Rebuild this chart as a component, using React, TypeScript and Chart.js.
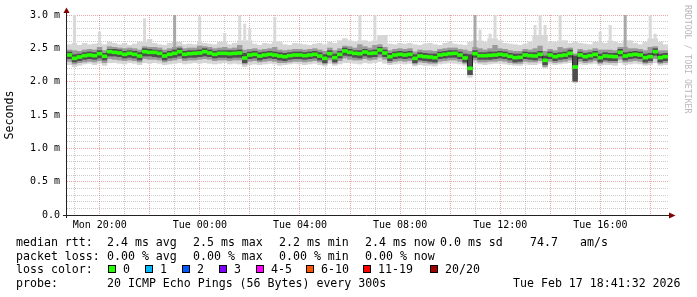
import React, { useEffect, useRef } from 'react';
import { Chart, registerables } from 'chart.js';

Chart.register(...registerables);

// time axis: hours since Mon 00:00
const startHour = 18 + 41 / 60 + 32 / 3600; // Mon 18:41:32
const spanHours = 24.01;
const binHours = 0.2;

const gridHours = [19, 20, 21, 22, 23, 24, 25, 26, 27, 28, 29, 30, 31, 32, 33, 34, 35, 36, 37, 38, 39, 40, 41, 42];
const labelHours = [20, 24, 28, 32, 36, 40];
const labelTexts = ['Mon 20:00', 'Tue 00:00', 'Tue 04:00', 'Tue 08:00', 'Tue 12:00', 'Tue 16:00'];
const yMajorValues = [0, 0.5, 1, 1.5, 2, 2.5, 3];
const yMajorLabels = ['0.0', '0.5 m', '1.0 m', '1.5 m', '2.0 m', '2.5 m', '3.0 m'];

// median rtt (ms)
const median = [
  2.40, 2.35, 2.37, 2.39, 2.40, 2.39, 2.42, 2.38, 2.45, 2.44,
  2.43, 2.41, 2.425, 2.41, 2.385, 2.45, 2.44, 2.44, 2.425, 2.385,
  2.41, 2.425, 2.45, 2.41, 2.42, 2.425, 2.43, 2.45, 2.43, 2.41,
  2.425, 2.425, 2.42, 2.425, 2.43, 2.355, 2.40, 2.41, 2.385, 2.40,
  2.41, 2.40, 2.385, 2.375, 2.39, 2.40, 2.40, 2.39, 2.40, 2.41,
  2.385, 2.35, 2.42, 2.36, 2.41, 2.46, 2.44, 2.425, 2.42, 2.445,
  2.425, 2.43, 2.475, 2.43, 2.375, 2.40, 2.41, 2.40, 2.41, 2.35,
  2.385, 2.375, 2.37, 2.36, 2.40, 2.41, 2.42, 2.425, 2.40, 2.355,
  2.20, 2.42, 2.39, 2.39, 2.395, 2.40, 2.41, 2.40, 2.38, 2.36,
  2.365, 2.40, 2.39, 2.385, 2.41, 2.32, 2.40, 2.375, 2.39, 2.40,
  2.425, 2.22, 2.40, 2.375, 2.39, 2.41, 2.36, 2.385, 2.38, 2.375,
  2.44, 2.385, 2.40, 2.41, 2.40, 2.36, 2.375, 2.45, 2.36, 2.375,
];

// outer smoke (max / min ping)
const maxV = [
  2.56, 2.58, 2.55, 2.58, 2.56, 2.57, 2.58, 2.56, 2.60, 2.58,
  2.56, 2.58, 2.55, 2.57, 2.60, 2.60, 2.64, 2.58, 2.56, 2.55,
  2.58, 2.60, 2.60, 2.56, 2.57, 2.56, 2.60, 2.58, 2.57, 2.56,
  2.60, 2.60, 2.56, 2.58, 2.62, 2.62, 2.62, 2.57, 2.55, 2.58,
  2.57, 2.60, 2.60, 2.56, 2.55, 2.58, 2.57, 2.56, 2.55, 2.57,
  2.58, 2.56, 2.60, 2.58, 2.62, 2.65, 2.62, 2.60, 2.62, 2.62,
  2.60, 2.62, 2.70, 2.70, 2.57, 2.56, 2.58, 2.57, 2.58, 2.56,
  2.55, 2.57, 2.58, 2.56, 2.55, 2.58, 2.60, 2.57, 2.56, 2.55,
  2.60, 2.62, 2.62, 2.60, 2.65, 2.65, 2.62, 2.58, 2.57, 2.56,
  2.55, 2.57, 2.60, 2.70, 2.70, 2.70, 2.60, 2.60, 2.62, 2.62,
  2.58, 2.60, 2.58, 2.57, 2.56, 2.60, 2.60, 2.58, 2.62, 2.60,
  2.58, 2.62, 2.62, 2.58, 2.56, 2.60, 2.65, 2.65, 2.60, 2.56,
];
const minV = [
  2.25, 2.22, 2.24, 2.26, 2.27, 2.25, 2.27, 2.24, 2.28, 2.28,
  2.27, 2.26, 2.28, 2.27, 2.25, 2.28, 2.27, 2.28, 2.27, 2.25,
  2.26, 2.27, 2.28, 2.26, 2.27, 2.28, 2.27, 2.28, 2.27, 2.26,
  2.27, 2.28, 2.26, 2.27, 2.26, 2.22, 2.25, 2.26, 2.25, 2.26,
  2.27, 2.26, 2.24, 2.25, 2.26, 2.27, 2.26, 2.25, 2.26, 2.27,
  2.25, 2.23, 2.27, 2.24, 2.26, 2.28, 2.28, 2.27, 2.26, 2.28,
  2.27, 2.28, 2.30, 2.27, 2.25, 2.26, 2.27, 2.26, 2.27, 2.23,
  2.25, 2.24, 2.24, 2.23, 2.26, 2.27, 2.28, 2.27, 2.26, 2.24,
  2.06, 2.28, 2.26, 2.25, 2.26, 2.27, 2.27, 2.26, 2.25, 2.24,
  2.24, 2.26, 2.25, 2.25, 2.27, 2.20, 2.26, 2.25, 2.26, 2.27,
  2.28, 1.98, 2.26, 2.25, 2.26, 2.27, 2.24, 2.25, 2.25, 2.24,
  2.28, 2.25, 2.26, 2.27, 2.26, 2.24, 2.25, 2.28, 2.24, 2.25,
];
// short-lived outliers (light and darker spikes)
const spikeLight = [
  null, 3.00, null, null, null, null, 2.75, null, null, null,
  null, null, null, null, null, 2.95, null, null, null, null,
  null, null, null, null, null, null, 2.98, null, null, null,
  null, 2.73, null, null, 3.00, 2.87, 2.80, null, null, null,
  null, 2.97, null, null, null, null, null, null, null, null,
  null, null, null, null, null, null, null, null, 3.00, null,
  null, 3.00, null, null, null, null, null, null, null, null,
  null, null, null, null, null, null, null, null, null, null,
  null, null, 2.78, null, 2.72, 3.00, null, null, null, null,
  null, null, null, 2.85, 3.00, 2.85, null, null, 3.00, null,
  null, null, null, null, null, null, 2.75, null, 2.85, null,
  null, null, null, null, null, null, 3.00, 2.72, null, null,
];
const spikeMid = [
  null, null, null, null, null, null, null, null, null, null,
  null, null, null, null, null, null, null, null, null, null,
  null, 3.00, null, null, null, null, null, null, null, null,
  null, null, null, null, null, null, null, null, null, null,
  null, null, null, null, null, null, null, null, null, null,
  null, null, null, null, null, null, null, null, null, null,
  null, null, null, null, null, null, null, null, null, null,
  null, null, null, null, null, null, null, null, null, null,
  null, 3.00, null, null, null, null, null, null, null, null,
  null, null, null, null, null, null, null, null, null, null,
  null, null, null, null, null, null, null, null, null, null,
  null, 3.00, null, null, null, null, null, null, null, null,
];

// middle smoke
const midHi = [
  2.48, 2.47, 2.46, 2.48, 2.49, 2.48, 2.52, 2.47, 2.53, 2.52,
  2.51, 2.50, 2.51, 2.50, 2.48, 2.53, 2.52, 2.52, 2.51, 2.48,
  2.50, 2.52, 2.53, 2.50, 2.51, 2.51, 2.54, 2.53, 2.52, 2.50,
  2.51, 2.52, 2.50, 2.51, 2.55, 2.48, 2.49, 2.50, 2.48, 2.49,
  2.50, 2.52, 2.48, 2.47, 2.48, 2.49, 2.49, 2.48, 2.49, 2.50,
  2.48, 2.46, 2.51, 2.47, 2.50, 2.54, 2.53, 2.51, 2.56, 2.53,
  2.51, 2.55, 2.56, 2.52, 2.47, 2.49, 2.50, 2.49, 2.50, 2.45,
  2.48, 2.47, 2.47, 2.46, 2.49, 2.50, 2.51, 2.51, 2.49, 2.48,
  2.46, 2.52, 2.50, 2.48, 2.50, 2.55, 2.50, 2.49, 2.47, 2.46,
  2.46, 2.49, 2.48, 2.50, 2.54, 2.46, 2.49, 2.47, 2.52, 2.50,
  2.51, 2.42, 2.49, 2.47, 2.48, 2.50, 2.48, 2.48, 2.48, 2.47,
  2.52, 2.52, 2.50, 2.50, 2.49, 2.47, 2.52, 2.53, 2.47, 2.47,
];
const midLo = [
  2.30, 2.26, 2.28, 2.29, 2.30, 2.29, 2.31, 2.28, 2.34, 2.33,
  2.32, 2.31, 2.32, 2.31, 2.29, 2.34, 2.33, 2.33, 2.32, 2.29,
  2.31, 2.32, 2.34, 2.31, 2.32, 2.32, 2.33, 2.34, 2.33, 2.31,
  2.32, 2.32, 2.31, 2.32, 2.32, 2.26, 2.30, 2.31, 2.29, 2.30,
  2.31, 2.30, 2.28, 2.28, 2.29, 2.30, 2.30, 2.29, 2.30, 2.31,
  2.29, 2.26, 2.32, 2.27, 2.31, 2.35, 2.33, 2.32, 2.32, 2.34,
  2.32, 2.33, 2.36, 2.33, 2.28, 2.30, 2.31, 2.30, 2.31, 2.26,
  2.29, 2.28, 2.27, 2.27, 2.30, 2.31, 2.32, 2.32, 2.30, 2.27,
  2.10, 2.32, 2.29, 2.29, 2.30, 2.30, 2.31, 2.30, 2.28, 2.27,
  2.27, 2.30, 2.29, 2.29, 2.31, 2.22, 2.30, 2.28, 2.29, 2.30,
  2.32, 2.03, 2.30, 2.28, 2.29, 2.31, 2.27, 2.29, 2.28, 2.28,
  2.33, 2.29, 2.30, 2.31, 2.30, 2.27, 2.28, 2.34, 2.27, 2.28,
];

// dense core of the smoke
const darkHi = [
  2.45, 2.41, 2.42, 2.44, 2.45, 2.44, 2.47, 2.43, 2.49, 2.49,
  2.48, 2.46, 2.47, 2.46, 2.44, 2.50, 2.49, 2.48, 2.47, 2.44,
  2.46, 2.48, 2.50, 2.46, 2.47, 2.47, 2.48, 2.50, 2.48, 2.46,
  2.47, 2.47, 2.47, 2.47, 2.48, 2.43, 2.45, 2.46, 2.44, 2.45,
  2.46, 2.45, 2.44, 2.43, 2.44, 2.45, 2.45, 2.44, 2.45, 2.46,
  2.44, 2.41, 2.47, 2.42, 2.46, 2.51, 2.49, 2.47, 2.47, 2.49,
  2.47, 2.48, 2.52, 2.48, 2.43, 2.45, 2.46, 2.45, 2.46, 2.41,
  2.44, 2.43, 2.42, 2.42, 2.45, 2.46, 2.47, 2.47, 2.45, 2.42,
  2.41, 2.47, 2.44, 2.44, 2.45, 2.45, 2.46, 2.45, 2.43, 2.42,
  2.42, 2.45, 2.44, 2.44, 2.46, 2.39, 2.45, 2.43, 2.44, 2.45,
  2.48, 2.39, 2.45, 2.43, 2.44, 2.46, 2.42, 2.44, 2.43, 2.43,
  2.49, 2.44, 2.45, 2.46, 2.45, 2.42, 2.43, 2.50, 2.42, 2.43,
];
const darkLo = [
  2.34, 2.29, 2.31, 2.33, 2.34, 2.33, 2.35, 2.32, 2.38, 2.38,
  2.37, 2.35, 2.36, 2.35, 2.32, 2.38, 2.38, 2.37, 2.36, 2.32,
  2.35, 2.36, 2.38, 2.35, 2.36, 2.36, 2.37, 2.38, 2.37, 2.35,
  2.36, 2.36, 2.35, 2.36, 2.36, 2.28, 2.34, 2.35, 2.32, 2.34,
  2.35, 2.34, 2.32, 2.31, 2.33, 2.34, 2.34, 2.33, 2.34, 2.35,
  2.32, 2.28, 2.36, 2.29, 2.35, 2.39, 2.38, 2.36, 2.35, 2.38,
  2.36, 2.37, 2.41, 2.37, 2.31, 2.34, 2.35, 2.34, 2.35, 2.28,
  2.32, 2.31, 2.30, 2.29, 2.34, 2.35, 2.36, 2.36, 2.34, 2.29,
  2.10, 2.36, 2.33, 2.33, 2.33, 2.34, 2.35, 2.34, 2.32, 2.29,
  2.30, 2.34, 2.33, 2.32, 2.35, 2.25, 2.34, 2.31, 2.33, 2.34,
  2.36, 2.00, 2.34, 2.31, 2.33, 2.35, 2.29, 2.32, 2.31, 2.31,
  2.38, 2.32, 2.34, 2.35, 2.34, 2.29, 2.31, 2.39, 2.29, 2.31,
];

// legend texts
const rttStats = ['2.4 ms avg', '2.5 ms max', '2.2 ms min', '2.4 ms now', '0.0 ms sd', '74.7', 'am/s'];
const lossStats = ['0.00 % avg', '0.00 % max', '0.00 % min', '0.00 % now'];
const lossLabels = ['0', '1', '2', '3', '4-5', '6-10', '11-19', '20/20'];
const lossColors = ['#26ff00', '#00b8ff', '#0059ff', '#7e00ff', '#ff00ff', '#ff5500', '#ff0000', '#a10000'];
const probeText = '20 ICMP Echo Pings (56 Bytes) every 300s';
const dateText = 'Tue Feb 17 18:41:32 2026';
const watermark = 'RRDTOOL / TOBI OETIKER';

const MONO = '"DejaVu Sans Mono", monospace';
const GRID = 'rgba(140,140,140,0.45)';
const MGRID = 'rgba(222,80,80,0.5)';
const medianHalf = 0.022;

const decor = {
  id: 'rrdDecor',
  afterDraw(chart: any) {
    const ctx = chart.ctx as CanvasRenderingContext2D;
    const a = chart.chartArea;
    ctx.save();
    // axes
    ctx.strokeStyle = '#222';
    ctx.lineWidth = 1;
    ctx.setLineDash([]);
    ctx.beginPath();
    ctx.moveTo(a.left - 4, a.bottom + 0.5);
    ctx.lineTo(a.right + 2, a.bottom + 0.5);
    ctx.moveTo(a.left - 0.5, a.bottom + 3);
    ctx.lineTo(a.left - 0.5, a.top - 3);
    ctx.stroke();
    // arrows
    ctx.fillStyle = '#7f0000';
    ctx.beginPath();
    ctx.moveTo(a.right + 1, a.bottom - 2.5);
    ctx.lineTo(a.right + 7.5, a.bottom + 0.5);
    ctx.lineTo(a.right + 1, a.bottom + 3.5);
    ctx.closePath();
    ctx.fill();
    ctx.beginPath();
    ctx.moveTo(a.left - 3.5, a.top - 2);
    ctx.lineTo(a.left - 0.5, a.top - 7.5);
    ctx.lineTo(a.left + 2.5, a.top - 2);
    ctx.closePath();
    ctx.fill();

    // legend
    ctx.font = '11.6px ' + MONO;
    ctx.fillStyle = '#000';
    ctx.textBaseline = 'alphabetic';
    ctx.textAlign = 'left';
    const rows = [246, 259.5, 273, 286.5];
    ctx.fillText('median rtt:', 16, rows[0]);
    const rttX = [107, 193, 279, 365, 440, 530, 580];
    rttStats.forEach((s, i) => ctx.fillText(s, rttX[i], rows[0]));
    ctx.fillText('packet loss:', 16, rows[1]);
    const lossX = [107, 193, 279, 365];
    lossStats.forEach((s, i) => ctx.fillText(s, lossX[i], rows[1]));
    ctx.fillText('loss color:', 16, rows[2]);
    const boxX = [108, 145, 182, 219, 256, 306, 363, 430];
    lossLabels.forEach((s, i) => {
      ctx.fillStyle = lossColors[i];
      ctx.fillRect(boxX[i], 265, 8, 8);
      ctx.strokeStyle = '#000';
      ctx.strokeRect(boxX[i] + 0.5, 265.5, 7, 7);
      ctx.fillStyle = '#000';
      ctx.fillText(s, boxX[i] + 15, rows[2]);
    });
    ctx.fillText('probe:', 16, rows[3]);
    ctx.fillText(probeText, 107, rows[3]);
    ctx.fillText(dateText, 513, rows[3]);

    // watermark
    ctx.save();
    ctx.translate(685, 5);
    ctx.rotate(Math.PI / 2);
    ctx.font = '8.2px ' + MONO;
    ctx.fillStyle = '#b8b8b8';
    ctx.textBaseline = 'alphabetic';
    ctx.fillText(watermark, 0, 0);
    ctx.restore();
    ctx.restore();
  },
};

function isMajorY(v: number) {
  return yMajorValues.some((m) => Math.abs(m - v) < 1e-6);
}

export default function App() {
  const ref = useRef<HTMLCanvasElement | null>(null);
  useEffect(() => {
    document.body.style.margin = '0';
    const canvas = ref.current;
    if (!canvas) return;
    const times = median.map((_, i) => startHour + binHours * (i + 0.5));
    const band = (lo: number[], hi: number[]) => times.map((t, i) => ({ x: t, y: [lo[i], hi[i]] }));
    const spikes = (base: number[], top: (number | null)[]) =>
      times.map((t, i) => ({ x: t, y: top[i] == null ? null : [base[i], top[i]] }));
    const barCommon = { grouped: false, barPercentage: 1.08, categoryPercentage: 1, borderWidth: 0, borderSkipped: false };
    const chart = new Chart(canvas, {
      type: 'bar',
      data: {
        datasets: [
          {
            type: 'bar',
            data: median.map((m, i) => ({ x: times[i], y: [m - medianHalf, m + medianHalf] })),
            backgroundColor: '#26ff00',
            order: 0,
            ...barCommon,
            barPercentage: 1,
          } as any,
          {
            type: 'line',
            data: times.map((t, i) => ({ x: t, y: median[i] })),
            borderColor: '#202020',
            borderWidth: 1,
            stepped: 'middle',
            pointRadius: 0,
            order: 1,
          } as any,
          { type: 'bar', data: band(darkLo, darkHi), backgroundColor: '#4e4e4e', order: 2, ...barCommon } as any,
          { type: 'bar', data: band(midLo, midHi), backgroundColor: '#9a9a9a', order: 3, ...barCommon } as any,
          { type: 'bar', data: spikes(midHi, spikeMid), backgroundColor: '#a8a8a8', order: 4, ...barCommon, barPercentage: 0.6 } as any,
          { type: 'bar', data: band(minV, maxV), backgroundColor: '#d6d6d6', order: 5, ...barCommon } as any,
          { type: 'bar', data: spikes(maxV, spikeLight), backgroundColor: '#d9d9d9', order: 6, ...barCommon, barPercentage: 0.6 } as any,
        ],
      },
      options: {
        responsive: false,
        animation: false,
        devicePixelRatio: 1,
        layout: { padding: { left: 0, top: 15, right: 29, bottom: 0 } },
        plugins: { legend: { display: false }, tooltip: { enabled: false } },
        scales: {
          x: {
            type: 'linear',
            min: startHour,
            max: startHour + spanHours,
            offset: false,
            z: 1,
            afterBuildTicks: (scale: any) => {
              scale.ticks = gridHours.map((h) => ({ value: h }));
            },
            afterFit: (scale: any) => {
              scale.height = 82;
            },
            grid: {
              offset: false,
              drawTicks: false,
              lineWidth: 1,
              color: (c: any) => (c.tick && c.tick.value % 2 === 0 ? MGRID : GRID),
            },
            border: { display: false, dash: [1, 1] },
            ticks: {
              autoSkip: false,
              maxRotation: 0,
              minRotation: 0,
              padding: 4,
              color: '#000',
              font: { family: MONO, size: 10 },
              callback: (v: any) => {
                const idx = labelHours.indexOf(Number(v));
                return idx >= 0 ? labelTexts[idx] : '';
              },
            },
          },
          y: {
            type: 'linear',
            min: 0,
            max: 3,
            z: 1,
            afterFit: (scale: any) => {
              scale.width = 67;
            },
            grid: {
              drawTicks: false,
              lineWidth: 1,
              color: (c: any) => (c.tick && isMajorY(c.tick.value) ? MGRID : GRID),
            },
            border: { display: false, dash: [1, 1] },
            ticks: {
              stepSize: 0.1,
              autoSkip: false,
              padding: 7,
              color: '#000',
              font: { family: MONO, size: 10 },
              callback: (v: any) => {
                const idx = yMajorValues.findIndex((m) => Math.abs(m - Number(v)) < 1e-6);
                return idx >= 0 ? yMajorLabels[idx] : '';
              },
            },
            title: {
              display: true,
              text: 'Seconds',
              color: '#000',
              font: { family: MONO, size: 11.6 },
              padding: { top: 3, bottom: 0 },
            },
          },
        },
      } as any,
      plugins: [decor],
    });
    return () => chart.destroy();
  }, []);
  return (
    <div style={{ position: 'fixed', left: 0, top: 0, width: 697, height: 297, background: '#fff' }}>
      <canvas ref={ref} width={697} height={297} style={{ display: 'block' }} />
    </div>
  );
}
